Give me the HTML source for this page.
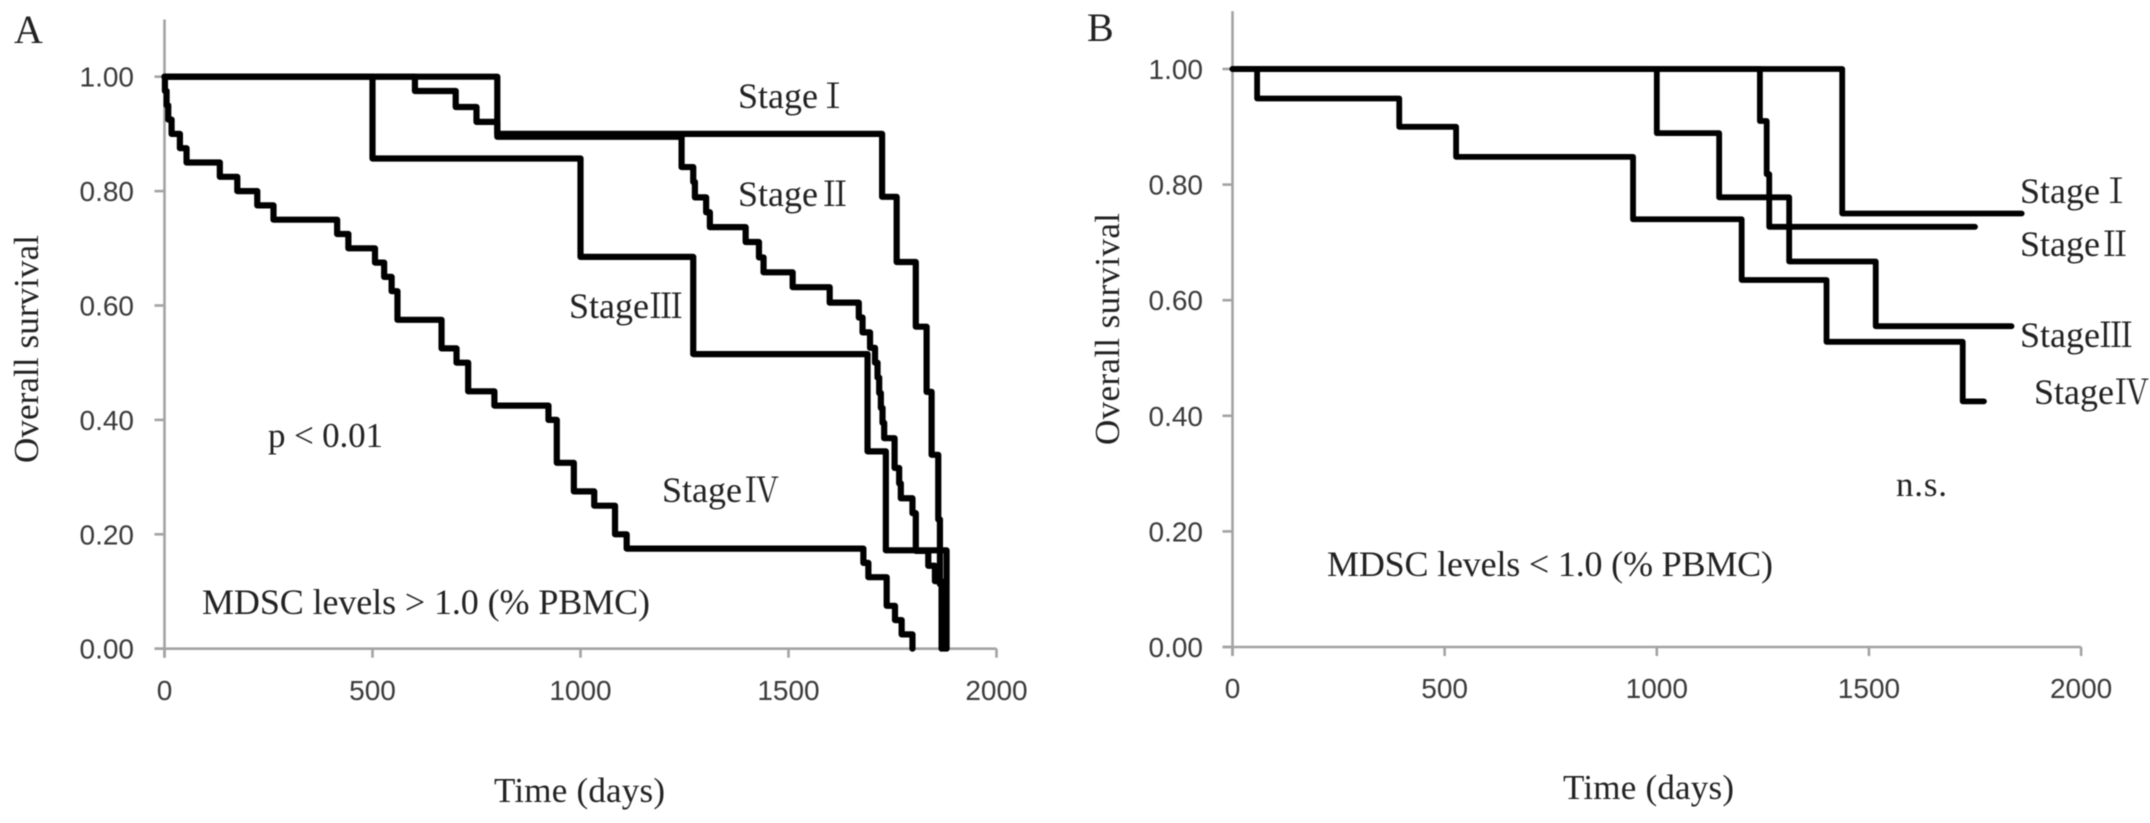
<!DOCTYPE html>
<html lang="en">
<head>
<meta charset="utf-8">
<title>Overall survival by stage and MDSC level</title>
<style>
html,body{margin:0;padding:0;background:#fff;width:2150px;height:823px;overflow:hidden}
svg{display:block;filter:blur(.45px)}
.serif{font-family:"Liberation Serif","Noto Serif CJK SC",serif;fill:#222}
.stage{font-size:36px}
.num{font-size:34px}
.tick{font-family:"Liberation Sans",sans-serif;font-size:28px;fill:#3a3a3a}
.axis{stroke:#a3a3a3;stroke-width:2.6;fill:none}
.curve{stroke:#000;fill:none;stroke-linejoin:round;stroke-linecap:round}
</style>
</head>
<body>
<svg id="chart" xmlns="http://www.w3.org/2000/svg" width="2150" height="823" viewBox="0 0 2150 823">
  <rect width="2150" height="823" fill="#fff"/>
  <g id="panel-a">
    <text class="serif" x="14" y="43" font-size="40">A</text>
    <text class="serif" transform="translate(38 463) rotate(-90)" font-size="35" textLength="228" lengthAdjust="spacing">Overall survival</text>
    <text class="serif" x="494" y="802" font-size="35" textLength="171" lengthAdjust="spacing">Time (days)</text>
    <text class="serif stage" x="738" y="108">Stage<tspan class="num" x="816">Ⅰ</tspan></text>
    <text class="serif stage" x="738" y="206">Stage<tspan class="num" x="818">Ⅱ</tspan></text>
    <text class="serif stage" x="569" y="318">Stage<tspan class="num" x="649">Ⅲ</tspan></text>
    <text class="serif stage" x="662" y="502">Stage<tspan class="num" x="745">Ⅳ</tspan></text>
    <text class="serif" x="268" y="447" font-size="35" textLength="115" lengthAdjust="spacing">p &lt; 0.01</text>
    <text class="serif" x="202" y="614" font-size="36" textLength="448" lengthAdjust="spacing">MDSC levels &gt; 1.0 (% PBMC)</text>
  </g>
  <g id="panel-b">
    <text class="serif" x="1087" y="41" font-size="40">B</text>
    <text class="serif" transform="translate(1119 445) rotate(-90)" font-size="35" textLength="232" lengthAdjust="spacing">Overall survival</text>
    <text class="serif" x="1563" y="799" font-size="35" textLength="171" lengthAdjust="spacing">Time (days)</text>
    <text class="serif stage" x="2020" y="203">Stage<tspan class="num" x="2099">Ⅰ</tspan></text>
    <text class="serif stage" x="2020" y="256">Stage<tspan class="num" x="2098">Ⅱ</tspan></text>
    <text class="serif stage" x="2020" y="347">Stage<tspan class="num" x="2099">Ⅲ</tspan></text>
    <text class="serif stage" x="2034" y="404">Stage<tspan class="num" x="2115">Ⅳ</tspan></text>
    <text class="serif" x="1896" y="496" font-size="35" textLength="51" lengthAdjust="spacing">n.s.</text>
    <text class="serif" x="1327" y="576" font-size="36" textLength="446" lengthAdjust="spacing">MDSC levels &lt; 1.0 (% PBMC)</text>
  </g>
</svg>
<script>
// Shared tick labels
var xTicks = [0, 500, 1000, 1500, 2000];
var yTicks = [0, 0.2, 0.4, 0.6, 0.8, 1.0];

// Panel A: step drops as days + survival after the drop
var aStage1Days = [800, 1725, 1760, 1806, 1832, 1844, 1860, 1864, 1868, 1874];
var aStage1Surv = [0.90, 0.79, 0.676, 0.563, 0.449, 0.339, 0.226, 0.113, 0.06, 0];
var aStage2Days = [602, 700, 750, 800, 1243, 1271, 1275, 1302, 1311, 1397, 1429, 1440, 1510, 1599, 1669, 1678, 1696, 1708, 1714, 1718, 1722, 1726, 1730, 1755, 1766, 1770, 1798, 1806, 1836, 1852, 1868];
var aStage2Surv = [0.975, 0.947, 0.921, 0.895, 0.842, 0.816, 0.789, 0.763, 0.737, 0.711, 0.684, 0.658, 0.632, 0.605, 0.579, 0.553, 0.526, 0.5, 0.474, 0.447, 0.421, 0.395, 0.368, 0.316, 0.289, 0.263, 0.237, 0.171, 0.145, 0.118, 0];
var aStage3Days = [500, 1000, 1271, 1690, 1734, 1880];
var aStage3Surv = [0.857, 0.685, 0.515, 0.345, 0.172, 0];
var aStage4Days = [1, 5, 9, 17, 37, 53, 133, 175, 223, 262, 415, 442, 506, 528, 546, 560, 666, 702, 730, 793, 923, 943, 984, 1033, 1083, 1111, 1680, 1692, 1736, 1756, 1772, 1798];
var aStage4Surv = [0.975, 0.95, 0.925, 0.9, 0.875, 0.85, 0.825, 0.8, 0.775, 0.75, 0.725, 0.7, 0.675, 0.65, 0.625, 0.575, 0.525, 0.5, 0.45, 0.425, 0.4, 0.325, 0.275, 0.25, 0.2, 0.175, 0.15, 0.125, 0.075, 0.05, 0.025, 0];

// Panel B
var bStage1Days = [1437, 1860];
var bStage1Surv = [0.75, 0.75];
var bStage2Days = [1243, 1259, 1265, 1750];
var bStage2Surv = [0.91, 0.818, 0.727, 0.727];
var bStage3Days = [1000, 1147, 1312, 1516, 1836];
var bStage3Surv = [0.889, 0.778, 0.667, 0.555, 0.555];
var bStage4Days = [58, 393, 527, 944, 1200, 1400, 1721, 1771];
var bStage4Surv = [0.949, 0.9, 0.848, 0.74, 0.635, 0.528, 0.425, 0.425];

var NS = 'http://www.w3.org/2000/svg';

function make(tag, parent) {
  var el = document.createElementNS(NS, tag);
  parent.appendChild(el);
  return el;
}

function drawAxes(parent, prefix, sx, sy, labelRight, xLabelBaseline) {
  var yAxis = make('line', parent);
  
  
  yAxis.setAttribute('class', 'axis');
  yAxis.setAttribute('x1', sx(0));
  yAxis.setAttribute('x2', sx(0));
  yAxis.setAttribute('y1', sy(1.1));
  yAxis.setAttribute('y2', sy(0) + 9);

  var xAxis = make('line', parent);
  
  
  xAxis.setAttribute('class', 'axis');
  xAxis.setAttribute('x1', sx(0) - 10);
  xAxis.setAttribute('x2', sx(2000));
  xAxis.setAttribute('y1', sy(0));
  xAxis.setAttribute('y2', sy(0));

  yTicks.forEach(function (v) {
    var mark = make('line', parent);
    
    
    mark.setAttribute('class', 'axis');
    mark.setAttribute('stroke-width', '2');
    mark.setAttribute('x1', sx(0) - 10);
    mark.setAttribute('x2', sx(0));
    mark.setAttribute('y1', sy(v));
    mark.setAttribute('y2', sy(v));

    var label = make('text', parent);
    
    
    label.setAttribute('class', 'tick');
    label.setAttribute('text-anchor', 'end');
    label.setAttribute('x', labelRight);
    label.setAttribute('y', sy(v) + 10);
    label.textContent = v.toFixed(2);
  });

  xTicks.forEach(function (v) {
    var mark = make('line', parent);
    
    
    mark.setAttribute('class', 'axis');
    mark.setAttribute('stroke-width', '2');
    mark.setAttribute('x1', sx(v));
    mark.setAttribute('x2', sx(v));
    mark.setAttribute('y1', sy(0));
    mark.setAttribute('y2', sy(0) + 9);

    var label = make('text', parent);
    
    
    label.setAttribute('class', 'tick');
    label.setAttribute('text-anchor', 'middle');
    label.setAttribute('x', sx(v));
    label.setAttribute('y', xLabelBaseline);
    label.textContent = String(v);
  });
}

function drawStep(parent, name, days, surv, sx, sy, width) {
  var d = 'M' + sx(0) + ' ' + sy(1);
  for (var i = 0; i < days.length; i++) {
    d += 'H' + sx(days[i]) + 'V' + sy(surv[i]);
  }
  var path = make('path', parent);
  
  
  path.setAttribute('class', 'curve');
  path.setAttribute('stroke-width', width);
  path.setAttribute('d', d);
}

// Panel A axis functions
function axA(v) { return 164.5 + v * 0.416; }
function ayA(v) { return 648.7 - v * 572; }
// Panel B axis functions
function axB(v) { return 1232.5 + v * 0.4243; }
function ayB(v) { return 647 - v * 578; }

var panelA = document.getElementById('panel-a');
var panelB = document.getElementById('panel-b');

drawAxes(panelA, 'panel-a', axA, ayA, 134, 700);
drawAxes(panelB, 'panel-b', axB, ayB, 1203, 698);

drawStep(panelA, 'panel-a-curve-stage-1', aStage1Days, aStage1Surv, axA, ayA, 6.2);
drawStep(panelA, 'panel-a-curve-stage-2', aStage2Days, aStage2Surv, axA, ayA, 6.2);
drawStep(panelA, 'panel-a-curve-stage-3', aStage3Days, aStage3Surv, axA, ayA, 6.2);
drawStep(panelA, 'panel-a-curve-stage-4', aStage4Days, aStage4Surv, axA, ayA, 6.2);

drawStep(panelB, 'panel-b-curve-stage-1', bStage1Days, bStage1Surv, axB, ayB, 5.8);
drawStep(panelB, 'panel-b-curve-stage-2', bStage2Days, bStage2Surv, axB, ayB, 5.8);
drawStep(panelB, 'panel-b-curve-stage-3', bStage3Days, bStage3Surv, axB, ayB, 5.8);
drawStep(panelB, 'panel-b-curve-stage-4', bStage4Days, bStage4Surv, axB, ayB, 5.8);
</script>
</body>
</html>
